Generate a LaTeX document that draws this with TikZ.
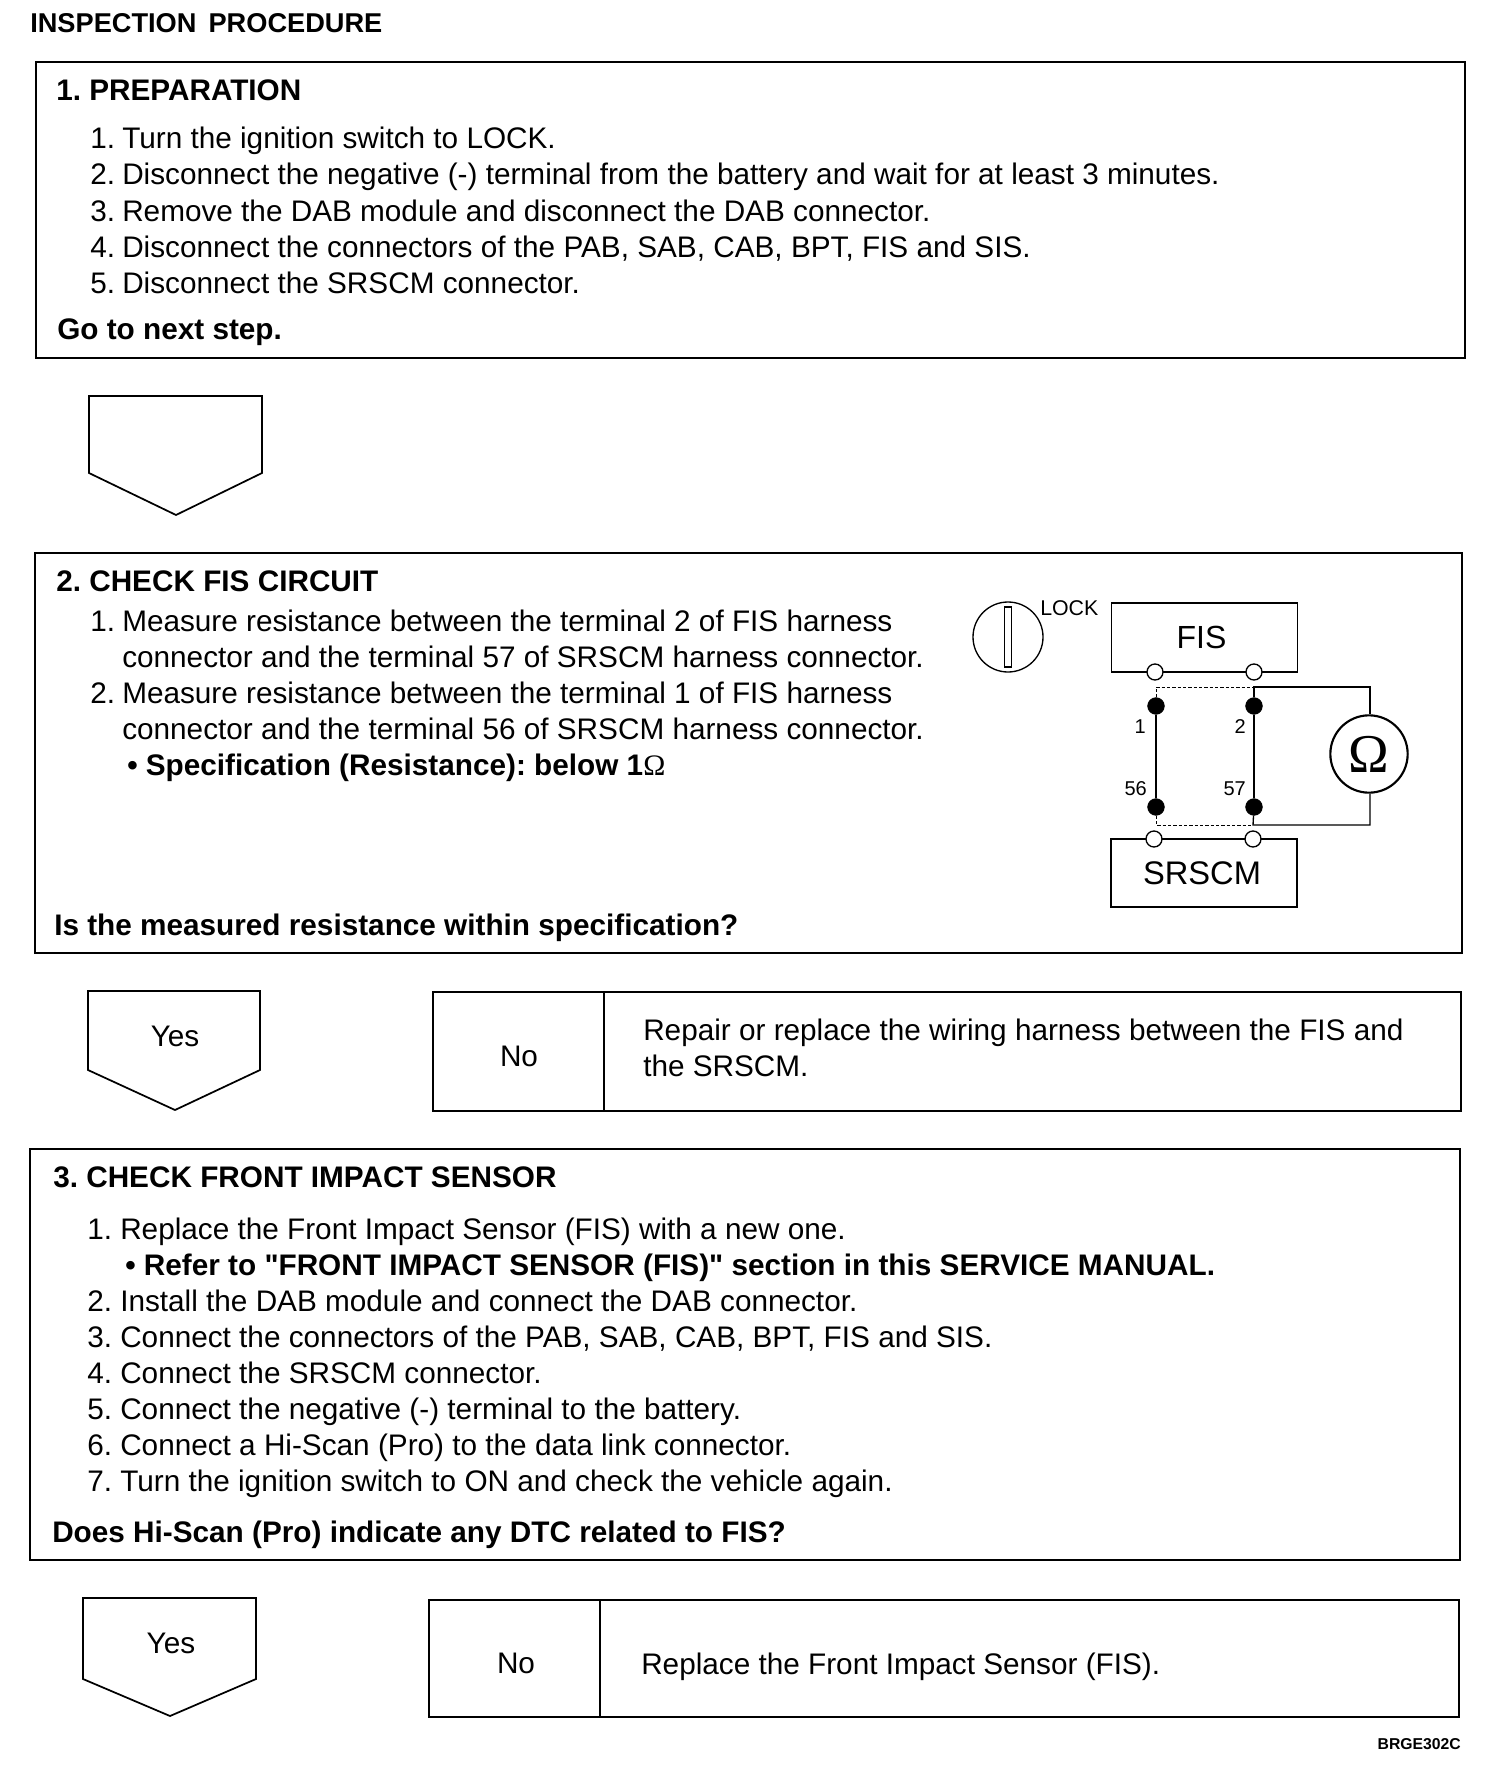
\documentclass[tikz,border=0pt]{standalone}
\usepackage{fontspec}
\setmainfont{Liberation Sans}[Ligatures=TeXOff]
\newfontfamily\omegafont{Liberation Serif}
\AtBeginDocument{\frenchspacing}
\begin{document}
\begin{tikzpicture}[x=0.75pt,y=-0.75pt,
  txt/.style={anchor=base west,inner sep=0pt,font=\fontsize{22.3pt}{26pt}\selectfont},
  btxt/.style={anchor=base west,inner sep=0pt,font=\fontsize{22.3pt}{26pt}\selectfont\bfseries},
  ctxt/.style={anchor=base,inner sep=0pt,font=\fontsize{22.3pt}{26pt}\selectfont},
  box/.style={draw=black,line width=1.8pt,line join=miter},
  thin box/.style={draw=black,line width=1pt},
  open term/.style={circle,draw=black,fill=white,line width=1pt,minimum size=12pt,inner sep=0pt},
  solid term/.style={circle,draw=black,fill=black,line width=0.5pt,minimum size=12.5pt,inner sep=0pt},
  wire/.style={draw=black,line width=1.6pt},
  fine wire/.style={draw=black,line width=1pt},
  dash wire/.style={draw=black,line width=0.7pt,dash pattern=on 2.5pt off 1.5pt},
  small/.style={anchor=base east,inner sep=0pt,font=\fontsize{15pt}{17pt}\selectfont},
]
\useasboundingbox (0,0) rectangle (1504,1766);
\fill[white] (0,0) rectangle (1504,1766);
\node[btxt,font=\fontsize{20.4pt}{24pt}\selectfont\bfseries] (title) at (30,33) {INSPECTION\ \,PROCEDURE};
% box 1
\draw[box] (36,62) rectangle (1465,358);
\node[btxt] (h1) at (56,101) {1. PREPARATION};
\node[txt] (a1) at (90,149) {1.};\node[txt] (a1t) at (122,149) {Turn the ignition switch to LOCK.};
\node[txt] (a2) at (90,185) {2.};\node[txt] (a2t) at (122,185) {Disconnect the negative (-) terminal from the battery and wait for at least 3 minutes.};
\node[txt] (a3) at (90,221) {3.};\node[txt] (a3t) at (122,221) {Remove the DAB module and disconnect the DAB connector.};
\node[txt] (a4) at (90,257) {4.};\node[txt] (a4t) at (122,257) {Disconnect the connectors of the PAB, SAB, CAB, BPT, FIS and SIS.};
\node[txt] (a5) at (90,293) {5.};\node[txt] (a5t) at (122,293) {Disconnect the SRSCM connector.};
\node[btxt] (a6) at (57,339) {Go to next step.};
% pentagon 1
\draw[thin box,line width=1.3pt] (89,396) -- (262,396) -- (262,473) -- (176,515) -- (89,473) -- cycle;
% box 2
\draw[box] (35,553) rectangle (1462,953);
\node[btxt] (h2) at (56,591) {2. CHECK FIS CIRCUIT};
\node[txt] (b1) at (90,631) {1.};\node[txt] (b1t) at (122,631) {Measure resistance between the terminal 2 of FIS harness};
\node[txt] (b1u) at (122,667) {connector and the terminal 57 of SRSCM harness connector.};
\node[txt] (b2) at (90,703) {2.};\node[txt] (b2t) at (122,703) {Measure resistance between the terminal 1 of FIS harness};
\node[txt] (b2u) at (122,739) {connector and the terminal 56 of SRSCM harness connector.};
\node[btxt] (b3) at (127,775) {• Specification (Resistance): below 1{\omegafont\mdseries Ω}};
\node[btxt] (b4) at (54,935) {Is the measured resistance within specification?};
% circuit
\node[draw=black,line width=1pt,circle,minimum size=52.5pt,inner sep=0pt] (key) at (1008,637) {};
\node[draw=black,line width=1.2pt,minimum width=5pt,minimum height=45pt,inner sep=0pt] (slot) at (1008,637) {};
\node[txt,font=\fontsize{16pt}{18pt}\selectfont] (lock) at (1040,615) {LOCK};
\node[thin box,minimum width=139.5pt,minimum height=51.75pt,inner sep=0pt,font=\fontsize{24pt}{28pt}\selectfont] (fis) at (1204.5,637.5) {FIS\kern4.5pt};
\node[thin box,minimum width=139.5pt,minimum height=51pt,inner sep=0pt,font=\fontsize{24.5pt}{28pt}\selectfont] (srscm) at (1204,873) {SRSCM\kern3pt};
\node[draw=black,line width=1.6pt,circle,minimum size=58pt,inner sep=0pt,font=\omegafont\fontsize{41pt}{44pt}\selectfont] (ohm) at (1369,754) {Ω};
\coordinate (tl) at (1156,687);
\coordinate (tr) at (1254,687);
\coordinate (trr) at (1370,687);
\coordinate (bl) at (1156,825);
\coordinate (br) at (1253,825);
\coordinate (brr) at (1370,825);
\node[solid term] (d1) at (1156,706) {};
\node[solid term] (d2) at (1254,706) {};
\node[solid term] (d56) at (1156,807) {};
\node[solid term] (d57) at (1254,807) {};
\draw[wire] (d1) -- (d56);
\draw[wire,line width=2pt] (d2) -- (d57);
\draw[dash wire] (d1) -- (tl) -- (tr);
\draw[dash wire] (d56) -- (bl) -- (br);
\draw[fine wire] (d2) -- (tr) -- (trr) -- (ohm.north -| trr);
\draw[fine wire] (d57) -- (br) -- (brr) -- (ohm.south -| brr);
\node[open term] (o1) at (1155,672) {};
\node[open term] (o2) at (1254,672) {};
\node[open term] (o3) at (1154,839) {};
\node[open term] (o4) at (1253,839) {};
\node[small] (l1) at (1146,733) {1};
\node[small] (l2) at (1246,733) {2};
\node[small] (l56) at (1147,795) {56};
\node[small] (l57) at (1246,795) {57};
% yes/no row 1
\draw[thin box,line width=1.3pt] (88,991) -- (260,991) -- (260,1070) -- (175,1110) -- (88,1070) -- cycle;
\node[ctxt] (y1) at (175,1046) {Yes};
\draw[box,line width=1.6pt] (433,992) rectangle (1461,1111);
\draw[box,line width=1.6pt] (604,992) -- (604,1111);
\node[ctxt] (n1) at (519,1066) {No};
\node[txt] (r1) at (643,1040) {Repair or replace the wiring harness between the FIS and};
\node[txt] (r2) at (643,1076) {the SRSCM.};
% box 3
\draw[box] (30,1149) rectangle (1460,1560);
\node[btxt] (h3) at (53,1187) {3. CHECK FRONT IMPACT SENSOR};
\node[txt] (c1) at (87,1239) {1.};\node[txt] (c1t) at (120,1239) {Replace the Front Impact Sensor (FIS) with a new one.};
\node[btxt] (c1b) at (125,1275) {• Refer to "FRONT IMPACT SENSOR (FIS)" section in this SERVICE MANUAL.};
\node[txt] (c2) at (87,1311) {2.};\node[txt] (c2t) at (120,1311) {Install the DAB module and connect the DAB connector.};
\node[txt] (c3) at (87,1347) {3.};\node[txt] (c3t) at (120,1347) {Connect the connectors of the PAB, SAB, CAB, BPT, FIS and SIS.};
\node[txt] (c4) at (87,1383) {4.};\node[txt] (c4t) at (120,1383) {Connect the SRSCM connector.};
\node[txt] (c5) at (87,1419) {5.};\node[txt] (c5t) at (120,1419) {Connect the negative (-) terminal to the battery.};
\node[txt] (c6) at (87,1455) {6.};\node[txt] (c6t) at (120,1455) {Connect a Hi-Scan (Pro) to the data link connector.};
\node[txt] (c7) at (87,1491) {7.};\node[txt] (c7t) at (120,1491) {Turn the ignition switch to ON and check the vehicle again.};
\node[btxt] (c8) at (52,1542) {Does Hi-Scan (Pro) indicate any DTC related to FIS?};
% yes/no row 2
\draw[thin box,line width=1.3pt] (83,1598) -- (256,1598) -- (256,1679) -- (170,1716) -- (83,1679) -- cycle;
\node[ctxt] (y2) at (171,1653) {Yes};
\draw[box,line width=1.6pt] (429,1600) rectangle (1459,1717);
\draw[box,line width=1.6pt] (600,1600) -- (600,1717);
\node[ctxt] (n2) at (516,1673) {No};
\node[txt] (r3) at (641,1674) {Replace the Front Impact Sensor (FIS).};
\node[btxt,anchor=base east,font=\fontsize{11.8pt}{13pt}\selectfont\bfseries] (code) at (1461,1749) {BRGE302C};
\end{tikzpicture}
\end{document}
